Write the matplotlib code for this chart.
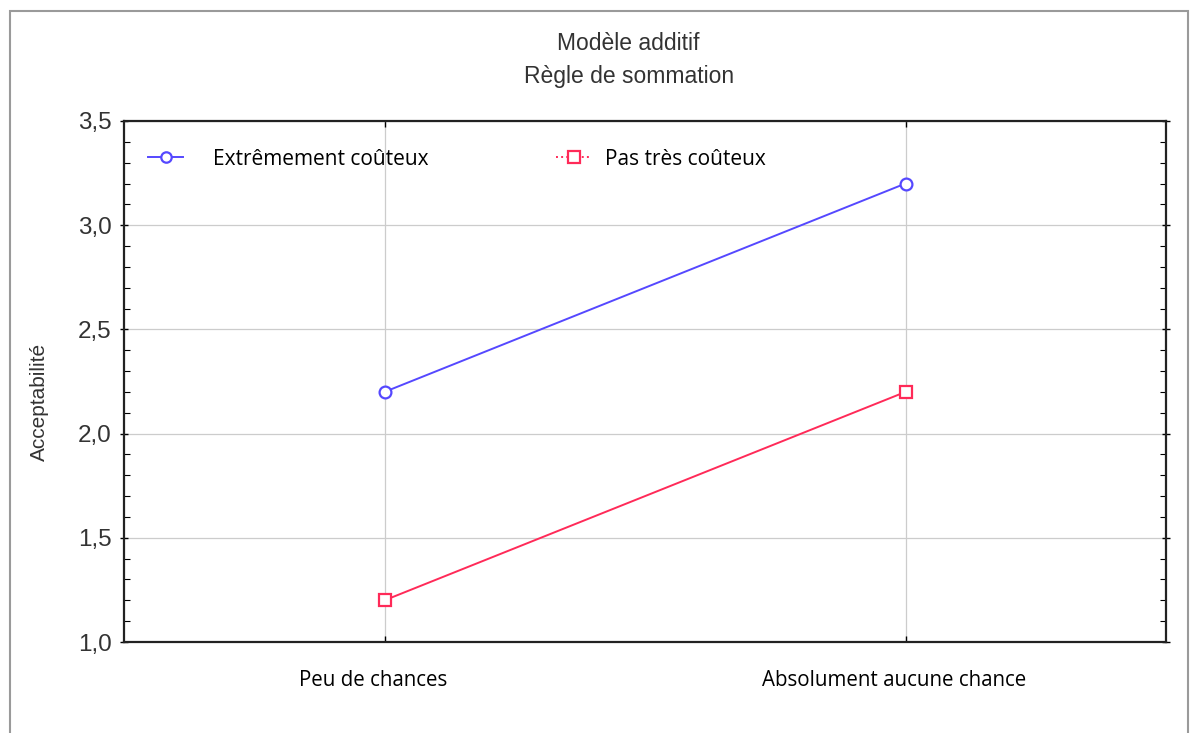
"""Interaction plot: additive model, summation rule."""

import matplotlib
matplotlib.use("Agg")
import matplotlib.pyplot as plt
from matplotlib.lines import Line2D
from matplotlib.patches import Rectangle
from matplotlib.ticker import FixedLocator, MultipleLocator, FuncFormatter
from matplotlib.transforms import ScaledTranslation

categories = ["Peu de chances", "Absolument aucune chance"]
extremement = [2.2, 3.2]
pas_tres = [1.2, 2.2]
series_labels = ["Extrêmement coûteux", "Pas très coûteux"]
y_ticks = [1.0, 1.5, 2.0, 2.5, 3.0, 3.5]

BLUE = "#5548ff"
RED = "#ff2a58"
TEXT_FONT = ["Open Sans", "DejaVu Sans"]
TICK_FONT = ["Liberation Sans", "DejaVu Sans"]


def main() -> None:
    fig = plt.figure(figsize=(11.95, 7.33), dpi=100)
    fig.patches.append(Rectangle((10 / 1195, -0.05), 1178 / 1195, 1.05 - 11 / 733,
                                 transform=fig.transFigure, fill=False,
                                 edgecolor="#9a9a9a", linewidth=1.5))

    ax = fig.add_axes([124 / 1195, 1 - 642 / 733, 1042 / 1195, 521 / 733])
    x = list(range(len(categories)))

    ax.plot(x, extremement, color=BLUE, linewidth=1.4, marker="o", markersize=8.5,
            markerfacecolor="white", markeredgecolor=BLUE, markeredgewidth=1.6, zorder=3)
    ax.plot(x, pas_tres, color=RED, linewidth=1.4, marker="s", markersize=8.5,
            markerfacecolor="white", markeredgecolor=RED, markeredgewidth=1.6, zorder=3)

    ax.set_xlim(-0.5, 1.5)
    ax.set_ylim(1.0, 3.5)
    ax.xaxis.set_major_locator(FixedLocator(x))
    ax.set_xticklabels([])
    # category labels sit a little left of their ticks in the original
    shift = ScaledTranslation(-11 / 100, -38 / 100, fig.dpi_scale_trans)
    for xi, name in zip(x, categories):
        ax.text(xi, 0, name, transform=ax.get_xaxis_transform() + shift,
                ha="center", va="center", fontsize=14.8, family=TEXT_FONT, color="black")

    ax.yaxis.set_major_locator(FixedLocator(y_ticks))
    ax.yaxis.set_minor_locator(MultipleLocator(0.1))
    ax.yaxis.set_major_formatter(FuncFormatter(lambda v, _: f"{v:.1f}".replace(".", ",")))
    for lab in ax.get_yticklabels():
        lab.set_fontfamily(TICK_FONT)
        lab.set_fontsize(17.5)
        lab.set_color("#333333")

    ax.tick_params(axis="y", which="major", direction="inout", length=6, width=1,
                   left=True, right=True, pad=6)
    ax.tick_params(axis="y", which="minor", direction="in", length=4, width=0.8,
                   left=True, right=True)
    ax.tick_params(axis="x", which="major", direction="in", length=4, width=1,
                   top=True, bottom=True)

    ax.grid(True, which="major", axis="both", color="#cccccc", linewidth=0.9)
    for sp in ax.spines.values():
        sp.set_linewidth(1.6)
        sp.set_color("#222222")

    ax.set_ylabel("Acceptabilité", fontsize=15, family=TICK_FONT, color="#333333", labelpad=21)
    ax.yaxis.label.set_y(0.46)

    fig.text(0.526, 1 - 43 / 733, "Modèle additif", ha="center", va="center",
             fontsize=16.5, family=TICK_FONT, color="#333333")
    fig.text(0.526, 1 - 77 / 733, "Règle de sommation", ha="center", va="center",
             fontsize=16.5, family=TICK_FONT, color="#333333")

    blue_handle = Line2D([0], [0], color=BLUE, linewidth=1.4, marker="o", markersize=7.5,
                         markerfacecolor="white", markeredgewidth=1.6)
    red_handle = Line2D([0], [0], color=RED, linewidth=1.4, linestyle=":", marker="s",
                        markersize=8.5, markerfacecolor="white", markeredgewidth=1.6)
    leg_font = {"family": TEXT_FONT, "size": 15}
    leg1 = ax.legend([blue_handle], [series_labels[0]], loc="upper left", frameon=False,
                     prop=leg_font, handlelength=1.7, handletextpad=1.4,
                     bbox_to_anchor=(0.005, 0.983))
    ax.add_artist(leg1)
    ax.legend([red_handle], [series_labels[1]], loc="upper left", frameon=False,
              prop=leg_font, handlelength=1.7, handletextpad=0.62,
              bbox_to_anchor=(0.397, 0.983))

    fig.savefig("out.png", dpi=100, facecolor="white")
    plt.close(fig)


if __name__ == "__main__":
    main()
